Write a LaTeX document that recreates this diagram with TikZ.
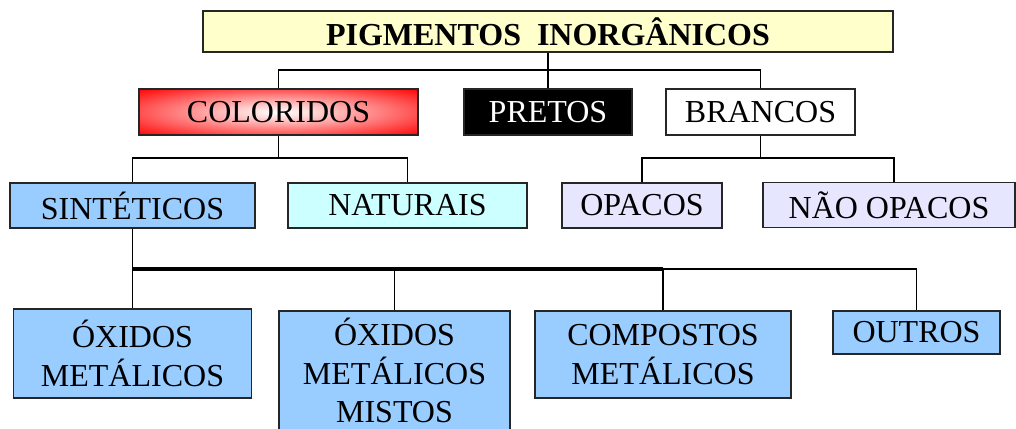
\documentclass[tikz,border=0pt]{standalone}
\usepackage{fontspec}
\setmainfont{Liberation Serif}
\definecolor{titleyellow}{HTML}{FFFFCC}
\definecolor{synthblue}{HTML}{99CCFF}
\definecolor{natcyan}{HTML}{CCFFFF}
\definecolor{whitelav}{HTML}{E6E6FF}
\pgfdeclareradialshading{redglow}{\pgfpoint{0bp}{0bp}}{color(0bp)=(white); color(6bp)=(white!85!red); color(36bp)=(red); color(50bp)=(red)}
\tikzstyle{box} = [rectangle, draw=black!85, line width=1pt, inner sep=0pt, align=center, text centered, font=\fontsize{24}{29}\selectfont]
\tikzstyle{line} = [line width=1.1pt]
\tikzstyle{bus} = [line width=2.4pt]

\begin{document}
\begin{tikzpicture}[x=0.75pt, y=-0.75pt]
\useasboundingbox (0,0) rectangle (1016,428);

% Top level
\node[box, fill=titleyellow, font=\fontsize{24}{29}\selectfont\bfseries, minimum width=517.5pt, minimum height=30.75pt] (pigments) at (548,31.5) {PIGMENTOS~~INORGÂNICOS};

% Coloured, black and white pigments
\node[box, shading=redglow, minimum width=209.25pt, minimum height=34.5pt] (colour) at (278.5,112) {COLORIDOS};
\node[box, fill=black, text=white, minimum width=126pt, minimum height=34.5pt] (black) at (548,112) {PRETOS};
\node[box, fill=white, minimum width=141.75pt, minimum height=34.5pt] (white) at (760.5,112) {BRANCOS};
\coordinate (tj) at (548,70);
\draw[line] (pigments) -- (black);
\draw[line] (colour) |- (tj) -| (white);

% Synthetic and natural
\node[box, fill=synthblue, minimum width=183.75pt, minimum height=33.75pt] (synth) at (132.5,205.5) {SINTÉTICOS};
\node[box, fill=natcyan, minimum width=179.25pt, minimum height=33.75pt] (natural) at (407.5,205.5) {NATURAIS};
\coordinate (cj) at (278.5,158);
\draw[line] (colour) -- (cj);
\draw[line] (synth) |- (cj) -| (natural);

% Opaque and not opaque
\node[box, fill=whitelav, minimum width=120pt, minimum height=33.75pt] (opaque) at (642,205.5) {OPACOS};
\node[box, fill=whitelav, minimum width=189pt, minimum height=33.75pt] (nonopaque) at (889,205) {NÃO OPACOS};
\coordinate (bj) at (760.5,158);
\draw[line] (white) -- (bj);
\draw[line] (opaque) |- (bj) -| ([xshift=3.75pt]nonopaque.north);

% Synthetic families
\node[box, fill=synthblue, minimum width=178.5pt, minimum height=66.75pt] (oxides) at (132.5,353.5) {ÓXIDOS\\METÁLICOS};
\node[box, fill=synthblue, minimum width=173.25pt, minimum height=89.25pt] (mixed) at (394.5,370.5) {ÓXIDOS\\METÁLICOS\\MISTOS};
\node[box, fill=synthblue, minimum width=192pt, minimum height=65.25pt] (compounds) at (663,354.5) {COMPOSTOS\\METÁLICOS};
\node[box, fill=synthblue, minimum width=125.25pt, minimum height=32.25pt] (others) at (916.5,332.5) {OUTROS};
\coordinate (sj) at (132.5,269);
\draw[line] (synth) -- (oxides);
\draw[bus] (sj) -- (sj -| compounds.north);
\draw[line] (sj -| compounds.north) -- (sj -| others.north);
\draw[line] (sj -| mixed.north) -- (mixed);
\draw[line] (sj -| compounds.north) -- (compounds);
\draw[line] (sj -| others.north) -- (others);

\end{tikzpicture}
\end{document}
